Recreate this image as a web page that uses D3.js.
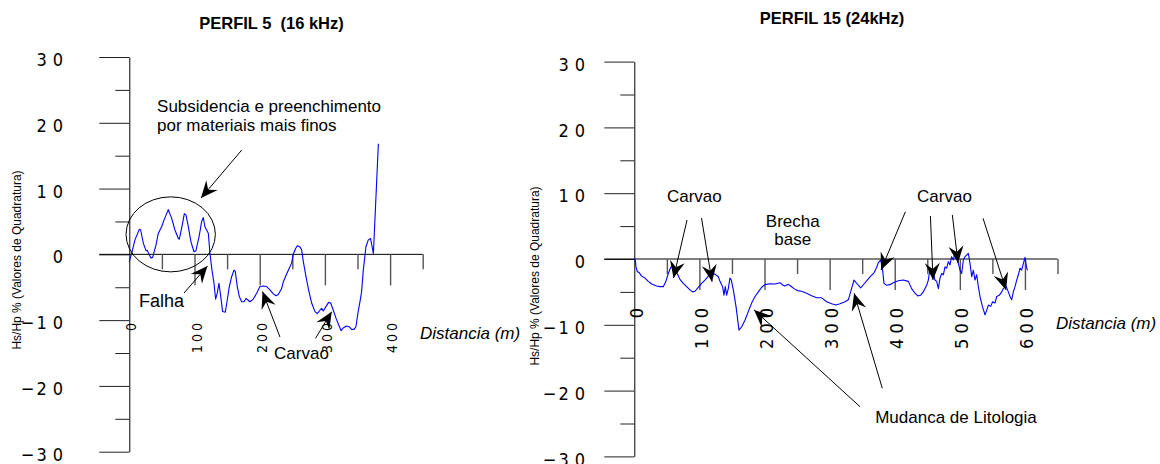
<!DOCTYPE html>
<html>
<head>
<meta charset="utf-8">
<script src="https://cdn.jsdelivr.net/npm/d3@7"></script>
<style>
body { margin: 0; background: #fff; }
svg { display: block; }
text { font-family: "Liberation Sans", Arial, sans-serif; fill: #000; }
.tlab { font-family: "Liberation Sans Narrow", "Arial Narrow", "DejaVu Sans Condensed", sans-serif; }
</style>
</head>
<body>
<script>
// PERFIL 5 (16 kHz) - distancia (m) / Hs/Hp %
var p5Dist = [0,3.6,8.7,15.3,17.4,21.5,25.6,27.6,29.6,33.2,35.8,40.9,44.5,49.6,53.2,59.8,64.9,70,75.2,76.7,
  80.3,84.4,86.9,90.5,94.6,99.2,102.2,107.4,111,113.5,116,118.6,121.2,123.7,126.8,129.9,132.4,134.9,137.5,140,
  143.1,147.2,150.3,153.4,157,160.5,162.6,165.6,168.7,172.3,175.9,179,181.5,185,190.2,195.3,200.4,205.5,210.6,215.7,
  220.9,225,228.5,233.6,236.2,241.3,246.4,249,251.5,255.1,257.7,261.8,264.3,266.9,271,275,279.7,284.8,288.3,292.4,
  295,297.5,301.6,305.7,308.8,312.9,317,321,325,328,333,337,341,344.6,347.6,351,353.8,356.3,358.9,363,
  366.6,370,374.4,382];
var p5Val = [-1.1,0.15,2.2,3.8,3.7,1.7,0.56,0.6,0.15,-0.56,-0.46,1.4,3.2,4.2,5.2,6.8,5.5,3.7,2.4,2.3,
  4.0,6.2,6.0,4.2,1.9,0.4,0.56,2.9,5.0,5.6,4.2,3.7,3.2,0.15,-2.4,-4.4,-6.8,-5.9,-4.4,-6.2,
  -8.7,-8.8,-6.9,-4.9,-3.4,-2.4,-2.6,-4.9,-6.4,-7.2,-7.2,-6.7,-6.9,-7.2,-6.8,-5.9,-4.9,-4.8,-4.9,-5.4,
  -6.0,-6.3,-6.1,-5.2,-4.2,-3.0,-1.9,-1.3,0.05,0.9,1.3,1.1,0.7,-1.1,-3.4,-5.4,-7.4,-8.7,-9.0,-8.5,
  -8.2,-8.6,-7.95,-7.3,-7.4,-8.5,-9.7,-10.7,-11.6,-11.2,-10.9,-11.0,-11.4,-11.4,-11.0,-8.7,-7.2,-5.7,-2.4,1.2,
  2.2,2.4,0.15,16.8];

// PERFIL 15 (24kHz)
var p15Dist = [0,1.5,2.6,4.6,7.7,11.3,16.4,21.5,26.6,34.3,39.4,44.5,48.6,52.2,55.8,58.9,62.5,66,70.1,75.3,
  80.4,85.5,89.6,93.2,98.3,103.4,108.5,113.7,118.8,123.9,129,131.6,135.7,137.7,139.8,141.8,144.4,146.9,149,152.1,
  156.2,160.8,164.9,170,175.1,180.2,185.4,190.5,195.6,200.7,208.4,216.1,223.8,227.9,231.4,236.6,240.1,245.3,250.4,257,
  264.7,272.4,280.1,287.8,295.4,303.1,309.8,315.9,323.6,328.7,332.3,337.4,342.5,347.7,352.8,357.9,363,368.2,372.2,374.8,
  378.4,380.9,383.5,387.6,392.7,397.8,405.5,413.2,420.9,426,431.1,435.2,439.8,443.9,449,451.6,454.2,458.3,461.8,464.4,
  467,469.5,472.1,474.7,477.2,479.8,482.3,484.9,487.4,490,492.6,495.1,497.7,500.3,502.8,505.4,507.9,510.5,513,515.6,
  518.2,520.7,523.3,525.9,528.4,531,534.6,538.7,541.2,543.8,547.4,550.4,554,556.6,560.7,564.3,566.8,570.9,574.5,577.1,
  579.6,582.2,584.8,587.3,589.9,592.4,595,597.6,600.1,602.7,604.2];
var p15Val = [0,-0.1,-1.2,-1.9,-2.1,-2.6,-2.9,-3.4,-3.8,-4.1,-4.2,-4.2,-3.4,-2.2,-1.3,-1.1,-1.4,-2.2,-3.1,-3.7,
  -4.2,-4.7,-5.0,-4.9,-4.3,-3.7,-3.2,-2.6,-2.2,-2.3,-2.7,-3.4,-4.2,-5.5,-4.2,-5.5,-4.5,-2.9,-3.2,-4.7,
  -7.2,-10.8,-10.3,-9.3,-8.0,-6.7,-5.7,-5.0,-4.3,-3.9,-3.75,-3.8,-3.6,-3.95,-4.1,-3.85,-4.1,-4.5,-4.8,-4.9,
  -5.2,-5.6,-5.9,-5.9,-6.5,-6.8,-7.0,-6.8,-6.5,-6.2,-5.0,-3.2,-3.8,-4.4,-3.8,-3.2,-2.6,-2.1,-1.3,-0.56,
  -0.15,-1.2,-3.7,-4.0,-3.9,-3.6,-3.3,-3.2,-3.4,-4.5,-5.2,-5.6,-5.5,-5.0,-4.0,-3.2,-1.4,-1.7,-3.2,-3.4,
  -4.5,-2.9,-2.2,-2.4,-1.2,-1.4,-0.4,-0.9,0.35,-0.15,1.0,0.35,-0.66,-1.7,-2.2,-0.15,0.35,0.6,0.86,-0.66,
  -2.7,-1.7,-3.2,-2.4,-4.2,-5.7,-7.2,-8.5,-7.8,-7.0,-7.2,-6.5,-6.7,-5.7,-5.5,-5.0,-4.5,-4.1,-5.0,-5.7,
  -6.2,-5.0,-4.2,-3.2,-2.4,-1.4,-1.7,-0.66,0.25,-1.4,-1.7];

// axis ticks
var yMajor = [-30, -20, -10, 0, 10, 20, 30];
var yMinor = [-25, -15, -5, 5, 15, 25];
var p5XMajor = [0, 100, 200, 300, 400];
var p5XMinor = [50, 150, 250, 350, 450];
var p15XMajor = [0, 100, 200, 300, 400, 500, 600];
var p15XMinor = [50, 150, 250, 350, 450, 550, 650];

// annotations, in data units (distancia, valor)
var p5Notes = [
  {t: "Subsidencia e preenchimento", m: 42.6, v: 21.7},
  {t: "por materiais mais finos", m: 42.6, v: 18.7},
  {t: "Falha", m: 15, v: -8.0, big: true},
  {t: "Carvao", m: 222, v: -15.9}
];
var p5Arrows = [[172.4, 15.85, 110, 8.56], [83.9, -5.88, 119.9, -1.78],
  [231.1, -12.57, 204.3, -5.65], [285.6, -12.77, 310.4, -8.72]];
var p5Ellipse = {m: 63.5, v: 3.04, rm: 68.5, rv: 5.7};

var p15Notes = [
  {t: "Carvao", m: 50.2, v: 8.66},
  {t: "Carvao", m: 434.3, v: 8.66},
  {t: "Brecha", m: 243.4, v: 4.86, mid: true},
  {t: "base", m: 243.4, v: 2.13, mid: true},
  {t: "Mudanca de Litologia", m: 370, v: -24.9}
];
var p15Arrows = [[81, 5.93, 60.2, -2.89], [103.2, 6.23, 119.4, -3.45],
  [416.4, 7.19, 379, -1.67], [454.8, 6.53, 458.8, -3.19],
  [488.5, 6.69, 497.2, -0.61], [535.6, 6.19, 571, -4.71],
  [346.7, -22.45, 184, -7.75], [380.9, -19.65, 337.6, -5.21]];

var svg = d3.select("body").append("svg")
  .attr("width", 1160)
  .attr("height", 464);

svg.append("defs").append("marker")
  .attr("id", "arr")
  .attr("markerUnits", "userSpaceOnUse")
  .attr("viewBox", "-18 -9 20 18")
  .attr("markerWidth", 20)
  .attr("markerHeight", 18)
  .attr("refX", 0)
  .attr("refY", 0)
  .attr("orient", "auto")
  .append("path")
  .attr("d", "M0,0L-17,-7.5L-11,0L-17,7.5Z")
  .attr("fill", "#000");

function drawPanel(p) {
  var x = d3.scaleLinear().domain([0, p.xMax]).range([p.x0, p.x1]);
  var y = d3.scaleLinear().domain([-30, 30]).range([p.yBot, p.yTop]);
  var g = svg.append("g");

  // title
  g.append("text")
    .attr("x", p.titleX).attr("y", p.titleY)
    .attr("text-anchor", "middle")
    .attr("font-weight", "bold")
    .attr("font-size", "16.5px")
    .style("white-space", "pre")
    .text(p.title);

  // y axis
  var ya = g.append("g")
    .attr("transform", "translate(" + p.x0 + ",0)")
    .call(d3.axisLeft(y).tickValues(yMajor).tickSize(30).tickSizeOuter(0).tickFormat(""));
  ya.select(".domain").attr("stroke", "#000");
  ya.selectAll(".tick line").attr("stroke", "#222");
  ya.selectAll("text")
    .attr("class", "tlab")
    .attr("font-size", "18px")
    .attr("fill", "#000")
    .style("letter-spacing", "6px")
    .attr("x", p.yLabR - p.x0 + 6)
    .attr("dy", "0.48em")
    .each(function(d) {
      var t = d3.select(this);
      if (d < 0) {
        t.append("tspan").style("letter-spacing", "2px").text("\u2212");
        t.append("tspan").text(-d);
      } else {
        t.text(d);
      }
    });
  g.append("g")
    .attr("transform", "translate(" + p.x0 + ",0)")
    .call(d3.axisLeft(y).tickValues(yMinor).tickSize(14).tickSizeOuter(0).tickFormat(""))
    .call(function(s) { s.select(".domain").remove(); s.selectAll("line").attr("stroke", "#222"); });

  // zero line + x ticks
  g.append("line")
    .attr("x1", p.x0 - 30).attr("x2", x(p.xMax))
    .attr("y1", y(0)).attr("y2", y(0))
    .attr("stroke", "#000");
  g.append("g")
    .attr("transform", "translate(0," + y(0) + ")")
    .call(d3.axisBottom(x).tickValues(p.xMajor.slice(1)).tickSize(31).tickFormat(""))
    .call(function(s) { s.select(".domain").remove(); s.selectAll("line").attr("stroke", "#555").attr("stroke-width", 1.4); });
  g.append("g")
    .attr("transform", "translate(0," + y(0) + ")")
    .call(d3.axisBottom(x).tickValues(p.xMinor).tickSize(15).tickFormat(""))
    .call(function(s) { s.select(".domain").remove(); s.selectAll("line").attr("stroke", "#555").attr("stroke-width", 1.4); });

  g.selectAll("text.xlab")
    .data(p.xMajor)
    .join("text")
    .attr("class", "xlab tlab")
    .attr("transform", function(d) { return "translate(" + x(d) + "," + p.xLabTop + ") rotate(-90)"; })
    .attr("text-anchor", "end")
    .attr("x", p.xLabLs)
    .attr("dy", p.xLabDy)
    .attr("font-size", p.xLabSize + "px")
    .style("letter-spacing", p.xLabLs + "px")
    .text(function(d) { return d; });

  // axis titles
  g.append("text")
    .attr("transform", "translate(" + p.yTitleX + "," + p.yTitleY + ") rotate(-90)")
    .attr("text-anchor", "middle")
    .attr("font-size", "12px")
    .text("Hs/Hp % (Valores de Quadratura)");
  g.append("text")
    .attr("x", p.xTitleX).attr("y", p.xTitleY)
    .attr("font-size", "17px")
    .attr("font-style", "italic")
    .text("Distancia (m)");

  // data line
  var line = d3.line()
    .x(function(d) { return x(d[0]); })
    .y(function(d) { return y(d[1]); });
  g.append("path")
    .datum(d3.zip(p.dist, p.val))
    .attr("d", line)
    .attr("fill", "none")
    .attr("stroke", "#0000ff")
    .attr("stroke-width", 1.1)
    .attr("stroke-linejoin", "round");

  // annotations
  if (p.ellipse) {
    var e = p.ellipse;
    g.append("ellipse")
      .attr("cx", x(e.m)).attr("cy", y(e.v))
      .attr("rx", x(e.m + e.rm) - x(e.m))
      .attr("ry", y(e.v - e.rv) - y(e.v))
      .attr("fill", "none")
      .attr("stroke", "#000")
      .attr("stroke-width", 1);
  }
  g.selectAll("line.arrow")
    .data(p.arrows)
    .join("line")
    .attr("class", "arrow")
    .attr("x1", function(d) { return x(d[0]); })
    .attr("y1", function(d) { return y(d[1]); })
    .attr("x2", function(d) { return x(d[2]); })
    .attr("y2", function(d) { return y(d[3]); })
    .attr("stroke", "#000")
    .attr("stroke-width", 1)
    .attr("marker-end", "url(#arr)");
  g.selectAll("text.note")
    .data(p.notes)
    .join("text")
    .attr("class", "note")
    .attr("x", function(d) { return x(d.m); })
    .attr("y", function(d) { return y(d.v); })
    .attr("text-anchor", function(d) { return d.mid ? "middle" : "start"; })
    .attr("font-size", function(d) { return d.big ? "18px" : "17px"; })
    .text(function(d) { return d.t; });
}

drawPanel({
  title: "PERFIL 5  (16 kHz)", titleX: 271.5, titleY: 29,
  xMax: 450, x0: 129.3, x1: 422.7, yTop: 57, yBot: 451.7,
  yLabR: 63, xMajor: p5XMajor, xMinor: p5XMinor,
  xLabTop: 323, xLabSize: 14, xLabLs: 3, xLabDy: "0.5em",
  yTitleX: 21, yTitleY: 260, xTitleX: 420, xTitleY: 339,
  dist: p5Dist, val: p5Val, notes: p5Notes, arrows: p5Arrows, ellipse: p5Ellipse
});

drawPanel({
  title: "PERFIL 15 (24kHz)", titleX: 832, titleY: 24,
  xMax: 650, x0: 634.3, x1: 1057.5, yTop: 61.6, yBot: 456.4,
  yLabR: 585, xMajor: p15XMajor, xMinor: p15XMinor,
  xLabTop: 308, xLabSize: 18, xLabLs: 5, xLabDy: "0.47em",
  yTitleX: 539, yTitleY: 276, xTitleX: 1056, xTitleY: 329,
  dist: p15Dist, val: p15Val, notes: p15Notes, arrows: p15Arrows, ellipse: null
});
</script>
</body>
</html>
